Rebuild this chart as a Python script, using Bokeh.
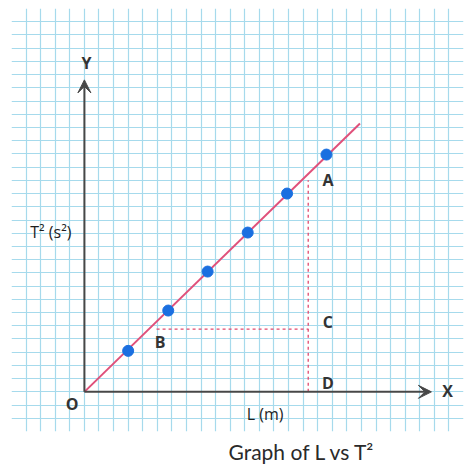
from bokeh.plotting import figure
from bokeh.models import Range1d, Grid, SingleIntervalTicker, Arrow, VeeHead, Label, Title
from bokeh.embed import file_html
from bokeh.resources import INLINE

# ---- data (one unit = one grid square) ----
L_points = [3.0, 5.75, 8.45, 11.2, 13.9, 16.6]
T2_points = [3.1, 6.15, 9.1, 12.05, 15.0, 17.95]
fit_L = [0.0, 18.9]
fit_T2 = [0.0, 20.3]

x_axis_end = 23.8
y_axis_end = 23.6

# construction lines for A, B, C, D
A_L, A_T2 = 15.35, 16.0       # top of vertical dashed line
B_L, B_T2 = 4.95, 4.75        # start of horizontal dashed line
C_L, C_T2 = 15.35, 4.75
D_L, D_T2 = 15.35, 0.0

point_labels = ["A", "B", "C", "D", "O", "X", "Y"]
label_x = [16.7, 5.2, 16.7, 16.7, -0.85, 24.9, 0.15]
label_y = [16.0, 3.8, 5.3, 0.65, -0.95, 0.1, 24.9]

y_title = "T² (s²)"
x_title = "L (m)"
caption = "Graph of L vs T²"

p = figure(width=465, height=468, output_backend="svg", toolbar_location=None,
           x_axis_location=None, y_axis_location=None,
           x_range=Range1d(-5, 26), y_range=Range1d(-3, 29),
           min_border_left=11, min_border_right=2, min_border_top=8, min_border_bottom=31)
p.outline_line_color = None
p.background_fill_color = "white"
p.border_fill_color = "white"
for g in p.grid:
    g.visible = False

grid_color = "#a6daec"
p.add_layout(Grid(dimension=0, ticker=SingleIntervalTicker(interval=1),
                  grid_line_color=grid_color, grid_line_width=1.2))
p.add_layout(Grid(dimension=1, ticker=SingleIntervalTicker(interval=1),
                  grid_line_color=grid_color, grid_line_width=1.2))

axis_color = "#474747"
p.add_layout(Arrow(end=VeeHead(size=13, fill_color=axis_color, line_color=axis_color),
                   x_start=0, y_start=0, x_end=x_axis_end, y_end=0,
                   line_color=axis_color, line_width=2))
p.add_layout(Arrow(end=VeeHead(size=13, fill_color=axis_color, line_color=axis_color),
                   x_start=0, y_start=0, x_end=0, y_end=y_axis_end,
                   line_color=axis_color, line_width=2))

dash_color = "#e0486e"
p.line([D_L, A_L], [D_T2, A_T2], line_color=dash_color, line_width=1.3, line_dash="3 3")
p.line([B_L, C_L], [B_T2, C_T2], line_color=dash_color, line_width=1.3, line_dash="3 3")

p.line(fit_L, fit_T2, line_color="#e0507a", line_width=2)
p.scatter(L_points, T2_points, size=11, fill_color="#1a6fe0", line_color="#1a6fe0")

for t, lx, ly in zip(point_labels, label_x, label_y):
    p.add_layout(Label(x=lx, y=ly, text=t, text_align="center", text_baseline="middle",
                       text_font="Open Sans", text_font_size="16px", text_font_style="bold",
                       text_color="#333333"))

p.add_layout(Label(x=-2.3, y=12.1, text=y_title, text_align="center", text_baseline="middle",
                   text_font="Open Sans", text_font_size="16px", text_color="#1e1e1e"))
p.add_layout(Label(x=12.4, y=-1.65, text=x_title, text_align="center", text_baseline="middle",
                   text_font="Open Sans", text_font_size="16px", text_color="#1e1e1e"))

p.add_layout(Title(text=caption, align="left", offset=217, vertical_align="bottom",
                   text_font="Lato", text_font_size="21px", text_font_style="normal",
                   text_color="#2a2a2a"), "below")

open("out.html", "w").write(file_html(p, INLINE))
